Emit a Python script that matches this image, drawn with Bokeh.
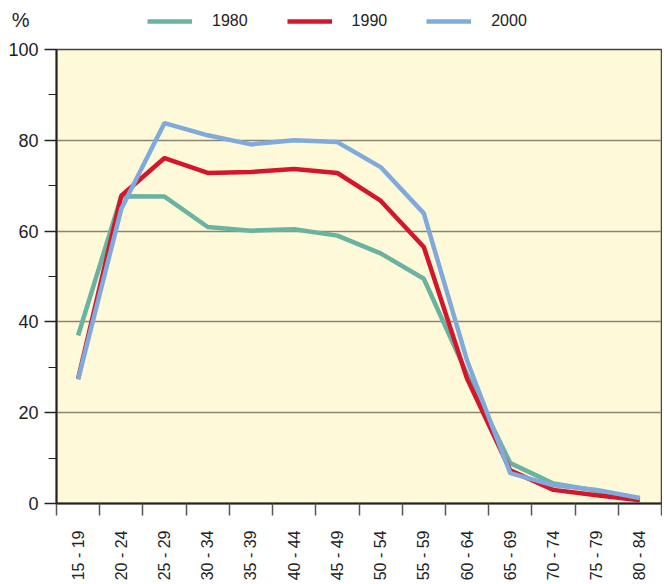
import math
from bokeh.plotting import figure
from bokeh.layouts import column
from bokeh.models import FixedTicker, Legend, LegendItem, Range1d
from bokeh.embed import file_html
from bokeh.resources import INLINE

age_groups = ["15 - 19", "20 - 24", "25 - 29", "30 - 34", "35 - 39", "40 - 44", "45 - 49",
              "50 - 54", "55 - 59", "60 - 64", "65 - 69", "70 - 74", "75 - 79", "80 - 84"]
share_1980 = [37.0, 67.7, 67.6, 60.9, 60.1, 60.4, 59.0, 55.1, 49.5, 28.5, 8.9, 4.4, 2.8, 1.0]
share_1990 = [27.5, 67.8, 76.1, 72.8, 73.0, 73.7, 72.8, 66.7, 56.5, 27.5, 7.3, 3.0, 1.8, 0.7]
share_2000 = [27.3, 64.9, 83.8, 81.1, 79.1, 80.0, 79.6, 74.1, 63.9, 31.5, 6.7, 4.0, 3.0, 1.2]
series_names = ["1980", "1990", "2000"]
series_colors = ["#69b3a0", "#d4152b", "#80aadc"]
unit_label = "%"

FONT = "Liberation Sans"

x = [i + 0.5 for i in range(len(age_groups))]
series = [share_1980, share_1990, share_2000]

# ---- header (unit + legend) ----
header = figure(width=662, height=39, output_backend="svg", toolbar_location=None,
                x_range=Range1d(-20, -19), y_range=Range1d(-20, -19),
                x_axis_location=None, y_axis_location="left", min_border=0)
header.grid.visible = False
header.outline_line_color = None
header.background_fill_color = "white"
header.border_fill_color = "white"
hy = header.yaxis[0]
hy.ticker = FixedTicker(ticks=[])
hy.axis_line_color = None
hy.major_tick_line_color = None
hy.minor_tick_line_color = None
hy.axis_label = unit_label
hy.axis_label_orientation = "horizontal"
hy.axis_label_standoff = 27
hy.axis_label_text_font = FONT
hy.axis_label_text_font_size = "20px"
hy.axis_label_text_font_style = "normal"
hy.axis_label_text_color = "#222222"

header_renderers = []
for vals, col in zip(series, series_colors):
    header_renderers.append(header.line(x, vals, line_color=col, line_width=4.5))

legend = Legend(items=[LegendItem(label=n, renderers=[r]) for n, r in zip(series_names, header_renderers)],
                orientation="horizontal", location=(91, 8))
legend.glyph_width = 45
legend.glyph_height = 20
legend.label_standoff = 20
legend.spacing = 39
legend.padding = 0
legend.margin = 0
legend.border_line_color = None
legend.background_fill_alpha = 0
legend.label_text_font = FONT
legend.label_text_font_size = "16px"
legend.label_text_color = "#222222"
header.add_layout(legend)

# ---- main chart ----
p = figure(frame_width=605, frame_height=454, output_backend="svg", toolbar_location=None,
           x_range=Range1d(0, len(age_groups)), y_range=Range1d(0, 100),
           min_border_left=56, min_border_right=1, min_border_top=10, min_border_bottom=80)

p.background_fill_color = "#fef9d8"
p.border_fill_color = "white"
p.outline_line_color = "#444444"
p.outline_line_width = 1.5

for vals, col in zip(series, series_colors):
    p.line(x, vals, line_color=col, line_width=4.5)

# y axis
p.yaxis.ticker = FixedTicker(ticks=[0, 20, 40, 60, 80, 100], minor_ticks=[10, 30, 50, 70, 90])
p.yaxis.axis_line_color = "#222222"
p.yaxis.axis_line_width = 2
p.yaxis.major_tick_out = 12
p.yaxis.major_tick_in = 0
p.yaxis.major_tick_line_width = 1.5
p.yaxis.major_tick_line_color = "#222222"
p.yaxis.minor_tick_out = 8
p.yaxis.minor_tick_in = 0
p.yaxis.minor_tick_line_color = "#222222"
p.yaxis.minor_tick_line_width = 1.2
p.yaxis.major_label_text_font = FONT
p.yaxis.major_label_text_font_size = "18px"
p.yaxis.major_label_text_color = "#222222"
p.yaxis.major_label_standoff = 6

# x axis
p.xaxis.ticker = FixedTicker(ticks=x, minor_ticks=list(range(len(age_groups) + 1)))
p.xaxis.major_label_overrides = {xv: lab for xv, lab in zip(x, age_groups)}
p.xaxis.axis_line_color = "#222222"
p.xaxis.axis_line_width = 2
p.xaxis.major_tick_line_color = None
p.xaxis.major_tick_out = 0
p.xaxis.major_tick_in = 0
p.xaxis.minor_tick_out = 12
p.xaxis.minor_tick_in = 0
p.xaxis.minor_tick_line_color = "#555555"
p.xaxis.minor_tick_line_width = 1.5
p.xaxis.major_label_orientation = math.pi / 2
p.xaxis.major_label_text_font = FONT
p.xaxis.major_label_text_font_size = "16px"
p.xaxis.major_label_text_color = "#222222"
p.xaxis.major_label_standoff = 15

# grid
p.xgrid.visible = False
p.ygrid.ticker = FixedTicker(ticks=[20, 40, 60, 80])
p.ygrid.grid_line_color = "#8b8673"
p.ygrid.grid_line_width = 1.5

layout = column(header, p, spacing=0)

open("out.html", "w").write(file_html(layout, INLINE))
